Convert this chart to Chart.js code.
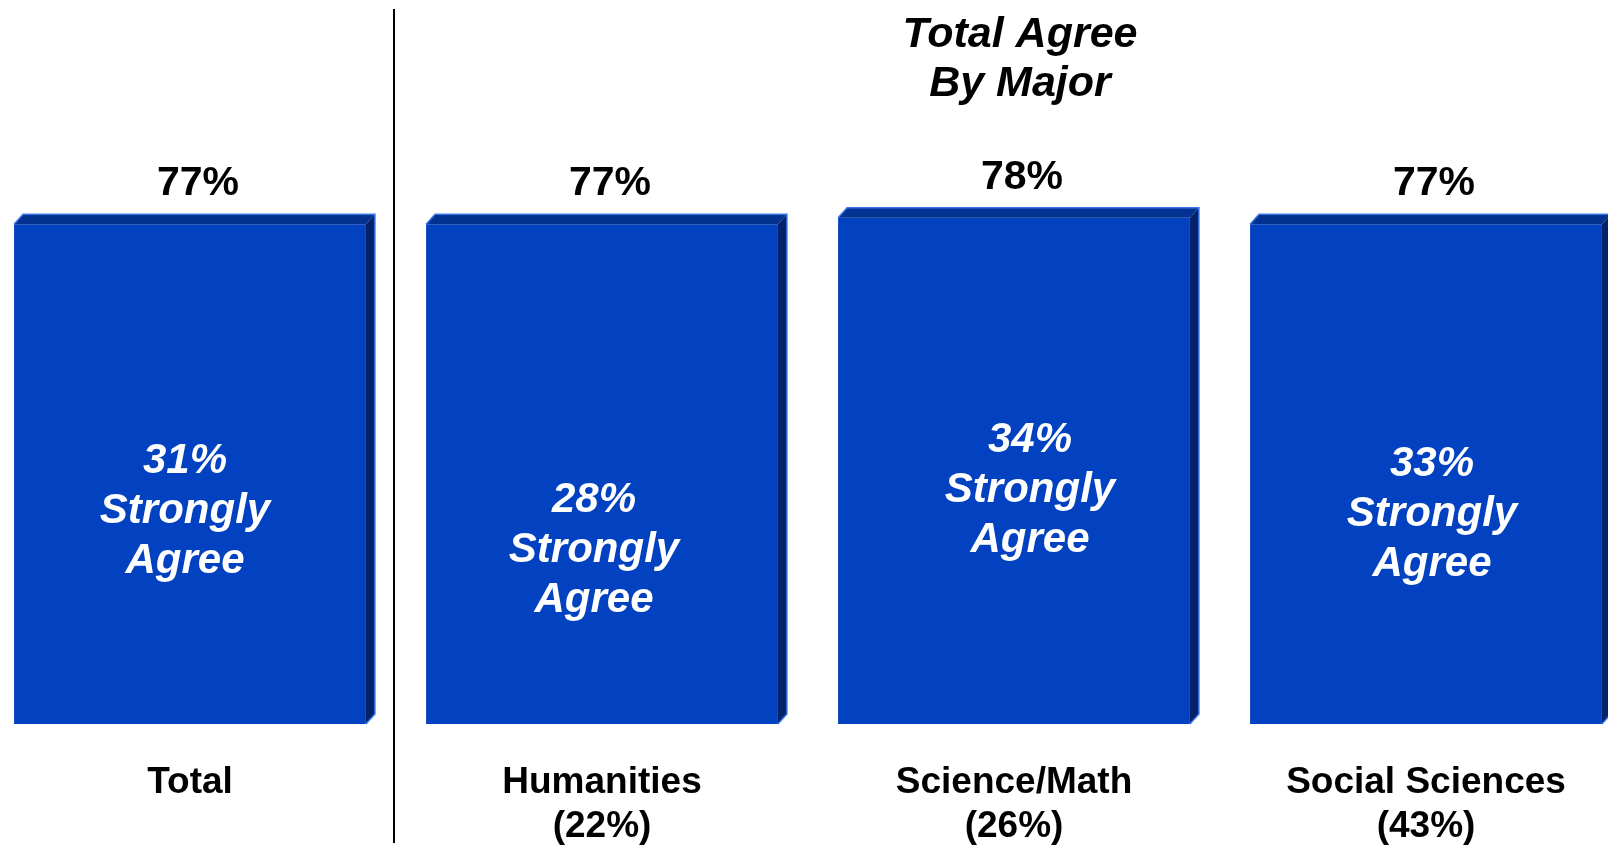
<!DOCTYPE html>
<html>
<head>
<meta charset="utf-8">
<script src="https://cdn.jsdelivr.net/npm/chart.js@4"></script>
<style>
  html, body { margin: 0; padding: 0; background: #fff; overflow: hidden; }
  #wrap { position: absolute; left: -16px; top: 0; width: 1648px; height: 878px; }
</style>
</head>
<body>
<div id="wrap"><canvas id="agreeChart"></canvas></div>
<script>
// data
var categories = [['Total'], ['Humanities', '(22%)'], ['Science/Math', '(26%)'], ['Social Sciences', '(43%)']];
var totalAgree = [77, 77, 78, 77];
var stronglyAgree = [31, 28, 34, 33];
var titleLines = ['Total Agree', 'By Major'];

var FONT = '"Liberation Sans", Arial, sans-serif';
var FRONT = '#0242c0';
var TOP = '#02318f';
var SIDE = '#03226a';
var EDGE = '#3a78ea';
var DX = 9, DY = 10;

// fake 3d faces, value labels and the "strongly agree" text
var bar3d = {
    id: 'bar3d',
    afterDatasetsDraw: function(chart, args, opts) {
        var ctx = chart.ctx;
        var meta = chart.getDatasetMeta(0);
        meta.data.forEach(function(bar, i) {
            var l = bar.x - bar.width / 2, r = bar.x + bar.width / 2;
            var t = bar.y, b = bar.base;
            ctx.save();
            // top face
            ctx.fillStyle = TOP;
            ctx.beginPath();
            ctx.moveTo(l, t);
            ctx.lineTo(l + DX, t - DY);
            ctx.lineTo(r + DX, t - DY);
            ctx.lineTo(r, t);
            ctx.closePath();
            ctx.fill();
            // side face
            ctx.fillStyle = SIDE;
            ctx.beginPath();
            ctx.moveTo(r, t);
            ctx.lineTo(r + DX, t - DY);
            ctx.lineTo(r + DX, b - DY);
            ctx.lineTo(r, b);
            ctx.closePath();
            ctx.fill();
            // light edges
            ctx.strokeStyle = EDGE;
            ctx.lineWidth = 1.5;
            ctx.beginPath();
            ctx.moveTo(l, t);
            ctx.lineTo(l + DX, t - DY);
            ctx.lineTo(r + DX, t - DY);
            ctx.lineTo(r + DX, b - DY);
            ctx.lineTo(r, b);
            ctx.stroke();

            // total agree value above the bar
            ctx.fillStyle = '#000';
            ctx.font = 'bold 41px ' + FONT;
            ctx.textAlign = 'center';
            ctx.textBaseline = 'alphabetic';
            ctx.fillText(totalAgree[i] + '%', bar.x + 8, t - 29);

            // strongly agree block inside the bar
            ctx.fillStyle = '#fff';
            ctx.font = 'italic bold 42px ' + FONT;
            var cx = bar.x + opts.innerDx[i];
            var mid = opts.innerBaseline[i];
            ctx.fillText(stronglyAgree[i] + '%', cx, mid - 50);
            ctx.fillText('Strongly', cx, mid);
            ctx.fillText('Agree', cx, mid + 50);
            ctx.restore();
        });

        // divider between Total and the majors
        var xs = chart.scales.x;
        var divX = (xs.getPixelForValue(0) + xs.getPixelForValue(1)) / 2 - 2;
        ctx.save();
        ctx.strokeStyle = '#000';
        ctx.lineWidth = 2;
        ctx.beginPath();
        ctx.moveTo(divX, 9);
        ctx.lineTo(divX, 843);
        ctx.stroke();

        // title over the majors
        ctx.fillStyle = '#000';
        ctx.font = 'italic bold 43px ' + FONT;
        ctx.textAlign = 'center';
        ctx.textBaseline = 'alphabetic';
        var tx = xs.getPixelForValue(2) + 6;
        ctx.fillText(titleLines[0], tx, 47);
        ctx.fillText(titleLines[1], tx, 96);
        ctx.restore();
    }
};

var data = {
    labels: categories,
    datasets: [{
        data: totalAgree,
        backgroundColor: FRONT,
        borderWidth: 0,
        barPercentage: 0.854,
        categoryPercentage: 1.0
    }]
};

var options = {
    responsive: true,
    maintainAspectRatio: false,
    animation: false,
    layout: {
        padding: { top: 75, bottom: 0, left: 0, right: 0 }
    },
    plugins: {
        legend: { display: false },
        tooltip: { enabled: false },
        bar3d: {
            innerBaseline: [523, 562, 502, 526],
            innerDx: [-5, -8, 16, 6]
        }
    },
    scales: {
        x: {
            grid: { display: false },
            border: { display: false },
            ticks: {
                color: '#000',
                padding: 29,
                autoSkip: false,
                maxRotation: 0,
                font: { family: FONT, size: 37, weight: 'bold', lineHeight: '44px' }
            }
        },
        y: {
            display: false,
            min: 0,
            max: 100
        }
    }
};

var agreeChart = new Chart(document.getElementById('agreeChart'), {
    type: 'bar',
    data: data,
    options: options,
    plugins: [bar3d]
});
</script>
</body>
</html>
